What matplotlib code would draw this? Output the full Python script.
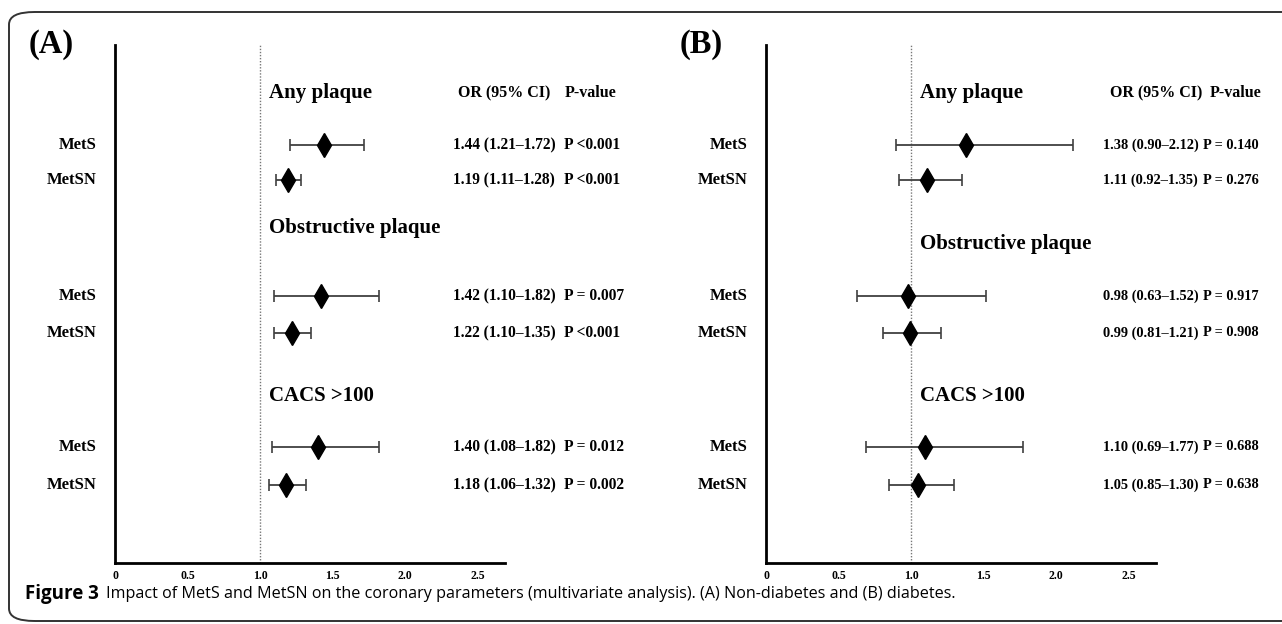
import matplotlib
matplotlib.use("Agg")
import matplotlib.pyplot as plt
from matplotlib.patches import FancyBboxPatch

# data
outcomes = ["Any plaque", "Obstructive plaque", "CACS >100"]
groups = ["MetS", "MetSN"]

# (A) non-diabetes
or_a = [1.44, 1.19, 1.42, 1.22, 1.40, 1.18]
lo_a = [1.21, 1.11, 1.10, 1.10, 1.08, 1.06]
hi_a = [1.72, 1.28, 1.82, 1.35, 1.82, 1.32]
p_a = ["P <0.001", "P <0.001", "P = 0.007", "P <0.001", "P = 0.012", "P = 0.002"]

# (B) diabetes
or_b = [1.38, 1.11, 0.98, 0.99, 1.10, 1.05]
lo_b = [0.90, 0.92, 0.63, 0.81, 0.69, 0.85]
hi_b = [2.12, 1.35, 1.52, 1.21, 1.77, 1.30]
p_b = ["P = 0.140", "P = 0.276", "P = 0.917", "P = 0.908", "P = 0.688", "P = 0.638"]

xticks = [0, 0.5, 1.0, 1.5, 2.0, 2.5]
xtick_labels = ["0", "0.5", "1.0", "1.5", "2.0", "2.5"]

W, H = 1282, 624
serif = "Liberation Serif"

# layout in pixels of the original figure
row_y = [145, 180, 296, 333, 447, 485]
head_y_a = [93, 228, 396]
head_y_b = [93, 244, 396]


def fx(px):
    return px / W


def fy(py):
    return 1 - py / H


fig = plt.figure(figsize=(W / 100, H / 100), dpi=100)

# frame round the figure
box = FancyBboxPatch((fx(9), fy(621)), fx(1400), fy(12) - fy(621),
                     boxstyle="round,pad=0,rounding_size=0.02",
                     transform=fig.transFigure, fill=False,
                     edgecolor="#333333", linewidth=1.4)
fig.patches.append(box)


def panel(left_px, ors, los, his, pvals, head_y, letter,
          or_x, p_x, orh_x, ph_x, num_size):
    ax = fig.add_axes([fx(left_px), fy(563), fx(390), fy(45) - fy(563)])
    ax.set_xlim(0, 2.69)
    ax.set_ylim(563, 45)
    for s in ["top", "right"]:
        ax.spines[s].set_visible(False)
    ax.spines["left"].set_linewidth(2.0)
    ax.spines["bottom"].set_linewidth(2.0)
    ax.set_yticks([])
    ax.set_xticks(xticks)
    ax.set_xticklabels(xtick_labels, fontfamily=serif, fontweight="bold", fontsize=8.5)
    ax.tick_params(axis="x", length=0, pad=5)
    ax.axvline(1.0, color="#777777", linestyle=(0, (1, 1.2)), linewidth=1.0)

    for i in range(len(ors)):
        y = row_y[i]
        ax.errorbar(ors[i], y, xerr=[[ors[i] - los[i]], [his[i] - ors[i]]],
                    fmt="none", ecolor="#404040", elinewidth=1.3,
                    capsize=4.5, capthick=1.2)
        ax.plot(ors[i], y, marker="d", markersize=12, color="black",
                markeredgecolor="black")
        fig.text(fx(left_px - 18), fy(y), groups[i % 2], ha="right", va="center",
                 fontfamily=serif, fontweight="bold", fontsize=12)
        fig.text(fx(or_x), fy(y), f"{ors[i]:.2f} ({los[i]:.2f}\u2013{his[i]:.2f})",
                 ha="left", va="center", fontfamily=serif, fontweight="bold",
                 fontsize=num_size)
        fig.text(fx(p_x), fy(y), pvals[i], ha="left", va="center",
                 fontfamily=serif, fontweight="bold", fontsize=num_size)

    for j, name in enumerate(outcomes):
        ax.text(1.06, head_y[j], name, ha="left", va="center",
                fontfamily=serif, fontweight="bold", fontsize=15)

    fig.text(fx(orh_x), fy(head_y[0]), "OR (95% CI)", ha="left", va="center",
             fontfamily=serif, fontweight="bold", fontsize=11.5)
    fig.text(fx(ph_x), fy(head_y[0]), "P-value", ha="left", va="center",
             fontfamily=serif, fontweight="bold", fontsize=11.5)
    fig.text(fx(left_px - 86), fy(45), letter, ha="left", va="center",
             fontfamily=serif, fontweight="bold", fontsize=23.5)
    return ax


panel(115, or_a, lo_a, hi_a, p_a, head_y_a, "(A)", 453, 564, 458, 565, 11.2)
panel(766, or_b, lo_b, hi_b, p_b, head_y_b, "(B)", 1103, 1203, 1110, 1210, 10.4)

fig.text(fx(25), fy(594), "Figure 3", ha="left", va="center",
         fontfamily="Open Sans", fontweight="bold", fontsize=13.5)
fig.text(fx(106), fy(594),
         "Impact of MetS and MetSN on the coronary parameters (multivariate analysis). "
         "(A) Non-diabetes and (B) diabetes.",
         ha="left", va="center", fontfamily="Open Sans", fontsize=11.6)

fig.savefig("out.png", dpi=100)
